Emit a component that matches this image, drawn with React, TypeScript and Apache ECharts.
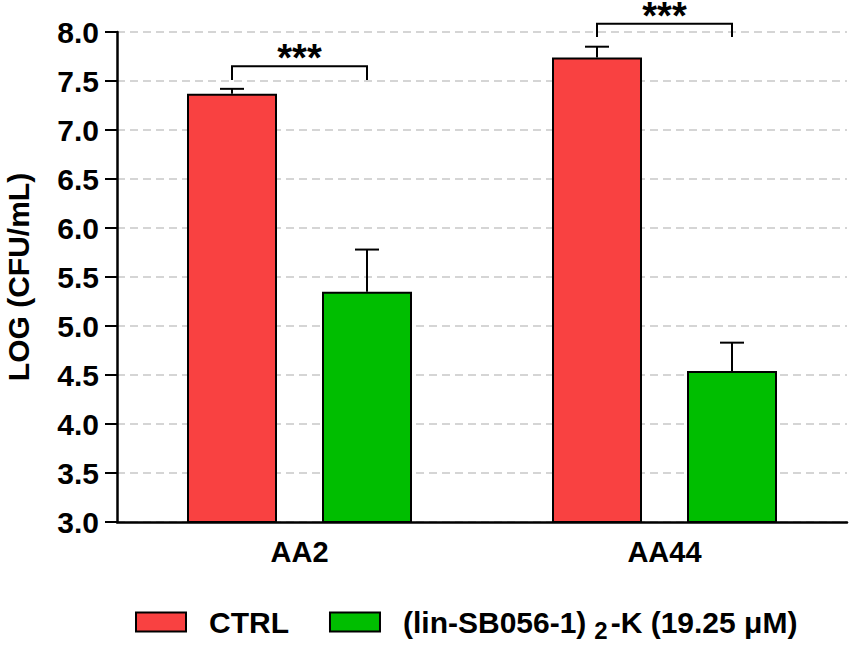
import React, { useEffect, useRef } from "react";
import * as echarts from "echarts";

const categories = ["AA2", "AA44"];
const ctrlMeans = [7.37, 7.74];
const ctrlErr = [0.05, 0.11];
const treatMeans = [5.35, 4.54];
const treatErr = [0.43, 0.29];
const sigLabels = ["***", "***"];
const bracketTop = [7.65, 8.085];
const bracketLeg = [7.51, 7.95];
const yTicks = { min: 3, max: 8, interval: 0.5 };

const CTRL_NAME = "CTRL";
const TREAT_NAME = "(lin-SB056-1)2-K (19.25 μM)";

const FONT = "'Liberation Sans', Arial, Helvetica, sans-serif";
const BAR_W = 90;
const GAP_RATIO = 0.5;
const OFFSET = (BAR_W + BAR_W * GAP_RATIO) / 2;

function errorRender(sign: number) {
  return (params: any, api: any) => {
    const c = api.value(0);
    const mean = api.value(1);
    const err = api.value(2);
    const base = api.coord([c, mean]);
    const top = api.coord([c, mean + err]);
    const x = base[0] + sign * OFFSET;
    const st = { stroke: "#000", lineWidth: 2 };
    return {
      type: "group",
      children: [
        { type: "line", shape: { x1: x, y1: base[1], x2: x, y2: top[1] }, style: st },
        { type: "line", shape: { x1: x - 12, y1: top[1], x2: x + 12, y2: top[1] }, style: st },
      ],
    };
  };
}

function bracketRender(params: any, api: any) {
  const c = api.value(0);
  const t = api.value(1);
  const l = api.value(2);
  const pTop = api.coord([c, t]);
  const pLeg = api.coord([c, l]);
  const xL = pTop[0] - OFFSET;
  const xR = pTop[0] + OFFSET;
  return {
    type: "group",
    children: [
      {
        type: "polyline",
        shape: {
          points: [
            [xL, pLeg[1]],
            [xL, pTop[1]],
            [xR, pTop[1]],
            [xR, pLeg[1]],
          ],
        },
        style: { stroke: "#000", lineWidth: 2, fill: null },
      },
      {
        type: "text",
        x: pTop[0],
        y: pTop[1] - 8,
        style: {
          text: sigLabels[params.dataIndex],
          fontSize: 38,
          lineHeight: 22,
          fontWeight: "bold",
          fontFamily: FONT,
          fill: "#000",
          align: "center",
          verticalAlign: "middle",
        },
      },
    ],
  };
}

export default function App() {
  const ref = useRef<HTMLDivElement>(null);
  useEffect(() => {
    if (!ref.current) return;
    const chart = echarts.init(ref.current, null, { renderer: "svg" });
    chart.setOption({
      animation: false,
      backgroundColor: "#fff",
      grid: {
        left: 117,
        right: 3,
        top: 32,
        bottom: 123,
        containLabel: false,
        outerBoundsMode: "none",
      },
      legend: {
        data: [CTRL_NAME, TREAT_NAME],
        icon: "rect",
        left: 130,
        top: 602,
        itemWidth: 50,
        itemHeight: 19,
        itemGap: 40,
        formatter: (name: string) =>
          name === CTRL_NAME ? "{a|CTRL}" : "{a|(lin-SB056-1)}{s|2}{a|-K (19.25 μM)}",
        textStyle: {
          color: "#000",
          fontSize: 30,
          fontWeight: "bold",
          fontFamily: FONT,
          padding: [0, 0, 0, 18],
          rich: {
            a: { fontSize: 30, fontWeight: "bold", fontFamily: FONT, color: "#000", lineHeight: 40 },
            s: {
              fontSize: 24,
              fontWeight: "bold",
              fontFamily: FONT,
              color: "#000",
              lineHeight: 24,
              verticalAlign: "bottom",
              padding: [0, 3, 0, 8],
            },
          },
        },
      },
      xAxis: {
        type: "category",
        data: categories,
        axisLine: { lineStyle: { color: "#000", width: 2.5 } },
        axisTick: { alignWithLabel: true, length: 12, lineStyle: { color: "#000", width: 2 } },
        axisLabel: { color: "#000", fontSize: 29, fontWeight: "bold", fontFamily: FONT, margin: 15 },
        splitLine: { show: false },
      },
      yAxis: {
        type: "value",
        min: yTicks.min,
        max: yTicks.max,
        interval: yTicks.interval,
        name: "LOG (CFU/mL)",
        nameLocation: "middle",
        nameGap: 84,
        nameTextStyle: {
          color: "#000",
          fontSize: 30,
          lineHeight: 30,
          fontWeight: "bold",
          fontFamily: FONT,
        },
        axisLine: { show: true, lineStyle: { color: "#000", width: 2.5 } },
        axisTick: { show: true, length: 12, lineStyle: { color: "#000", width: 2 } },
        axisLabel: {
          color: "#000",
          fontSize: 30,
          fontWeight: "bold",
          fontFamily: FONT,
          margin: 18,
          formatter: (v: number) => v.toFixed(1),
        },
        splitLine: { show: true, lineStyle: { color: "#c8c8c8", width: 1.5, type: [8, 5] } },
      },
      series: [
        {
          name: CTRL_NAME,
          type: "bar",
          data: ctrlMeans,
          barWidth: BAR_W,
          barGap: GAP_RATIO * 100 + "%",
          itemStyle: { color: "#F94141", borderColor: "#000", borderWidth: 2 },
        },
        {
          name: TREAT_NAME,
          type: "bar",
          data: treatMeans,
          barWidth: BAR_W,
          barGap: GAP_RATIO * 100 + "%",
          itemStyle: { color: "#00BE00", borderColor: "#000", borderWidth: 2 },
        },
        {
          type: "custom",
          renderItem: errorRender(-1),
          data: ctrlMeans.map((m, i) => [i, m, ctrlErr[i]]),
          encode: { x: 0, y: 1 },
          z: 5,
          clip: false,
          silent: true,
        },
        {
          type: "custom",
          renderItem: errorRender(1),
          data: treatMeans.map((m, i) => [i, m, treatErr[i]]),
          encode: { x: 0, y: 1 },
          z: 5,
          clip: false,
          silent: true,
        },
        {
          type: "custom",
          renderItem: bracketRender,
          data: bracketTop.map((t, i) => [i, t, bracketLeg[i]]),
          encode: { x: 0, y: 1 },
          z: 5,
          clip: false,
          silent: true,
        },
      ],
    });
    return () => chart.dispose();
  }, []);
  return (
    <div
      ref={ref}
      style={{ position: "fixed", left: 0, top: 0, width: 850, height: 645, background: "#fff" }}
    />
  );
}
